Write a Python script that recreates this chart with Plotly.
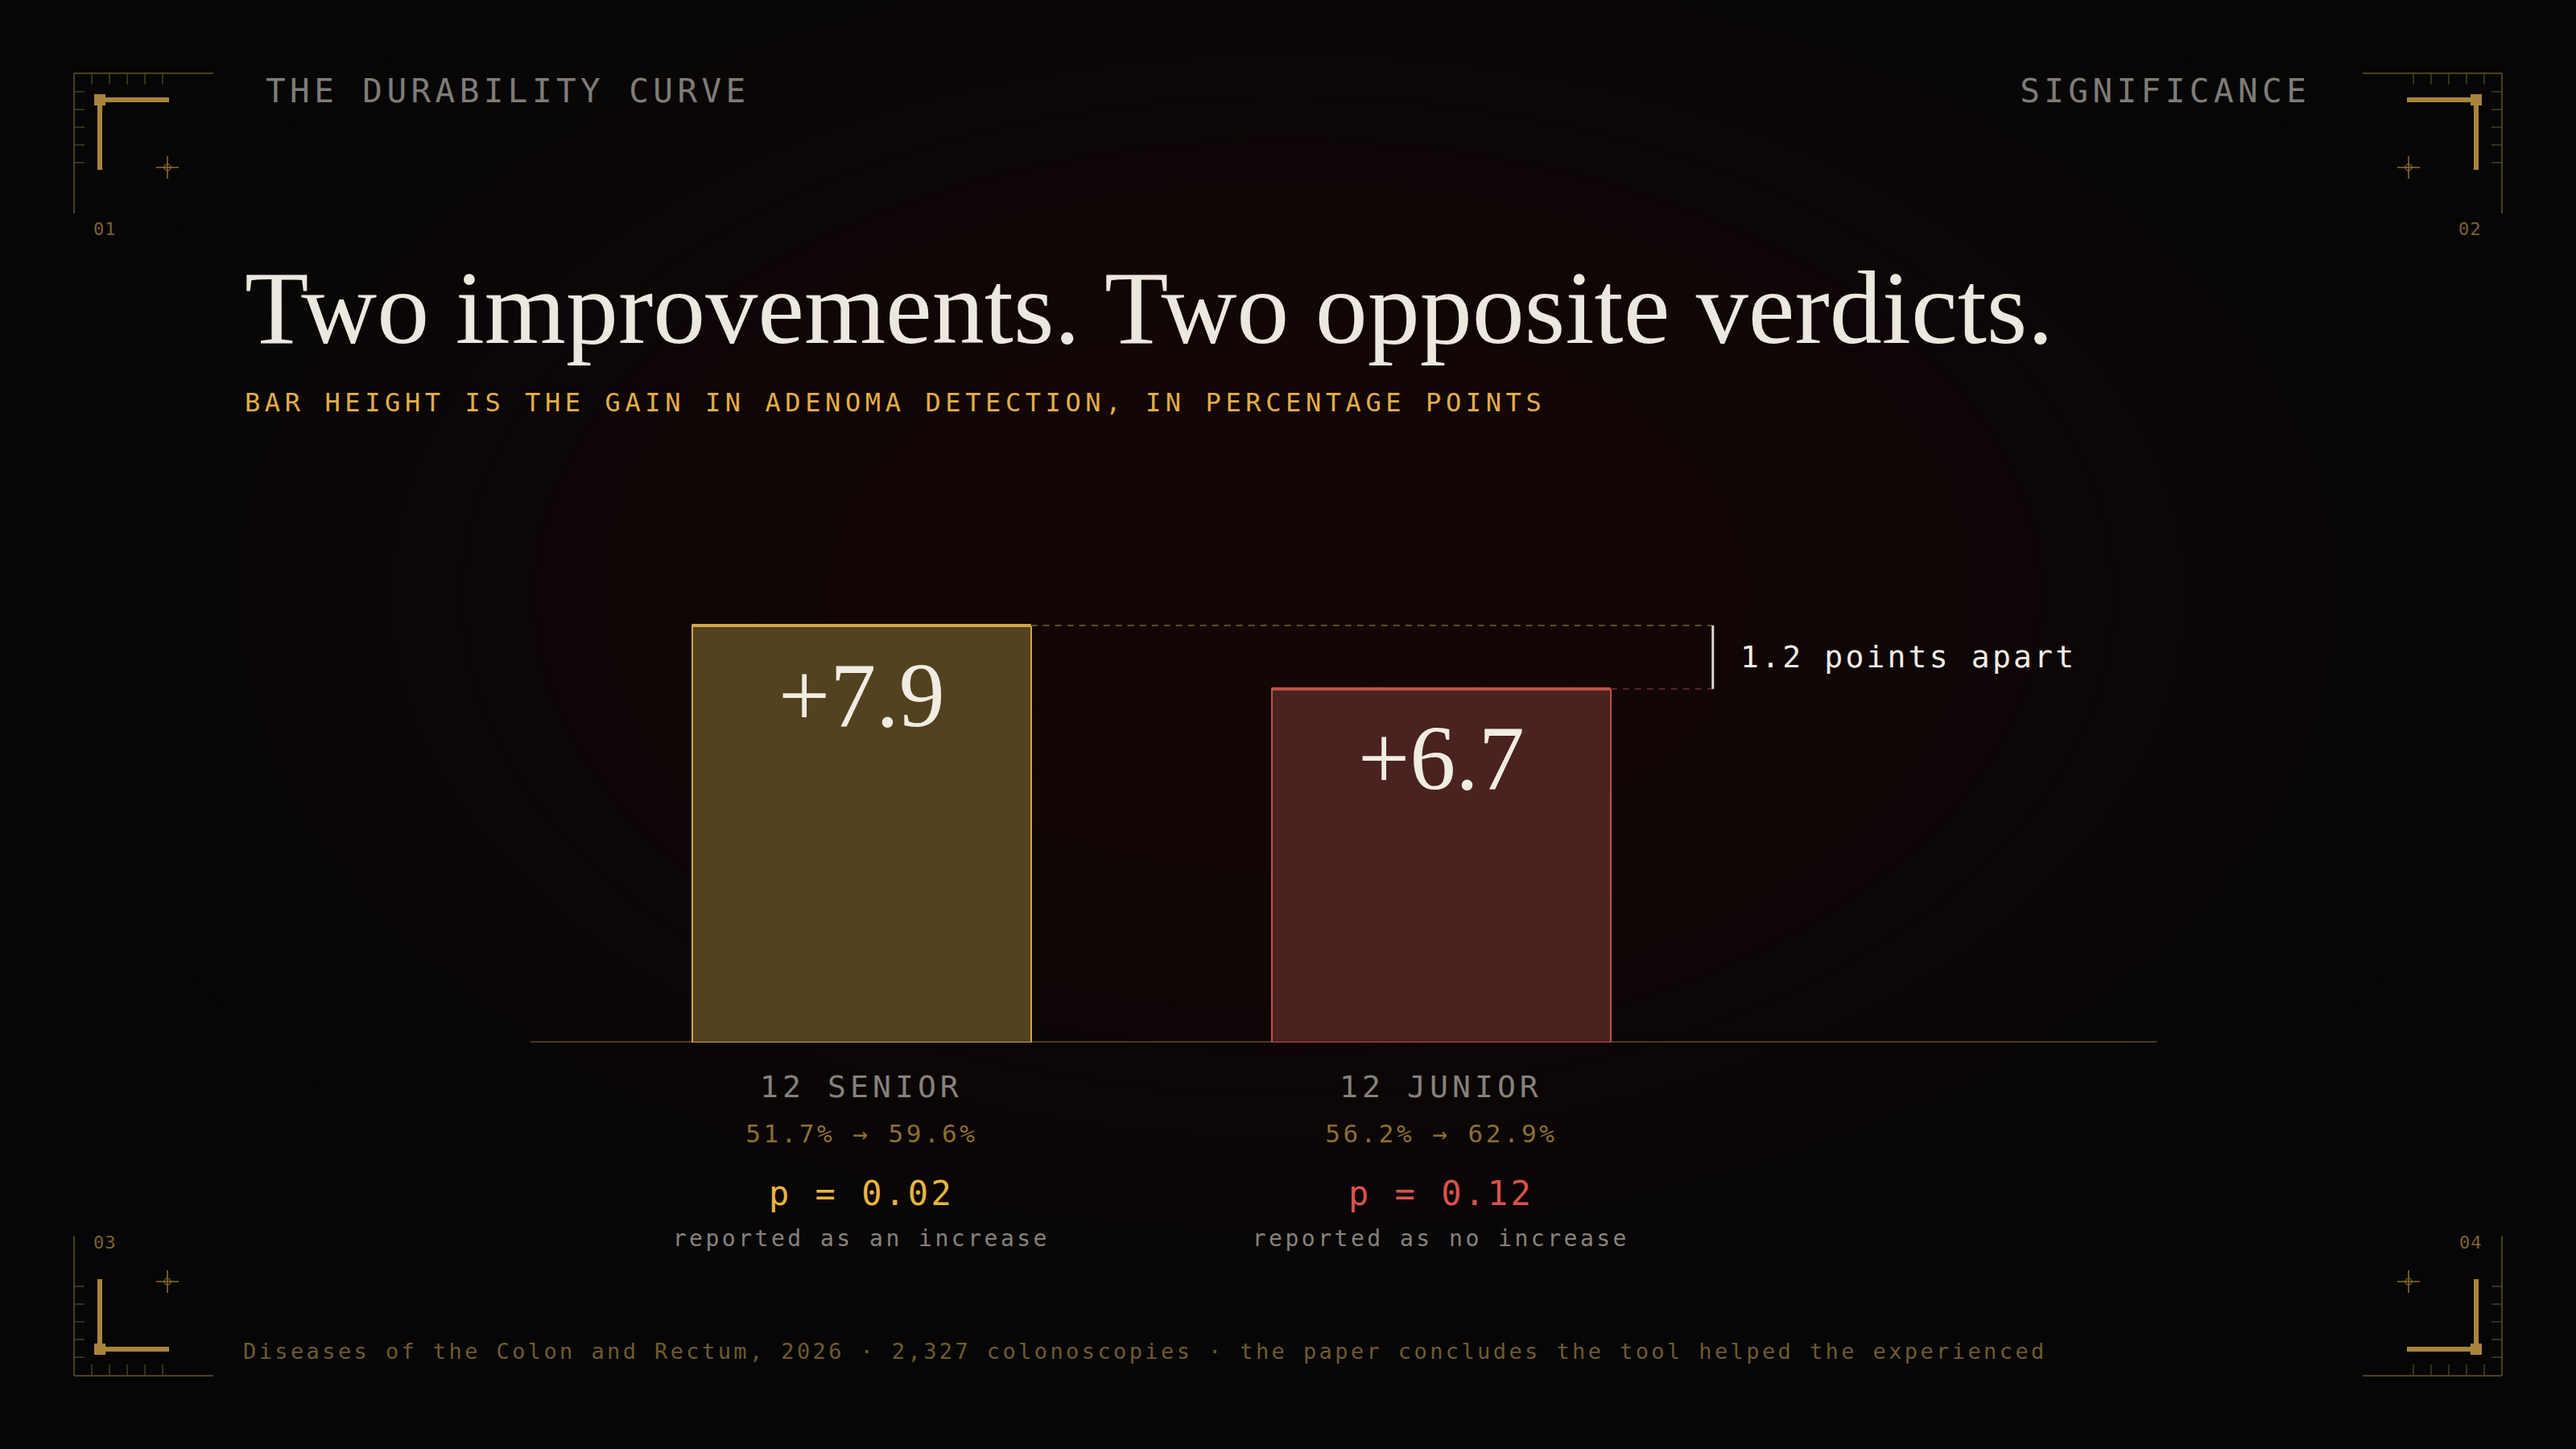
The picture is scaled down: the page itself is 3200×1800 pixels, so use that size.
import plotly.graph_objects as go

# ---------------- data ----------------
categories = ["12 SENIOR", "12 JUNIOR"]
rate_before = [51.7, 56.2]
rate_after = [59.6, 62.9]
gains = [round(a - b, 1) for a, b in zip(rate_after, rate_before)]
p_values = ["0.02", "0.12"]
verdicts = ["reported as an increase", "reported as no increase"]

# ---------------- styles ----------------
W, H = 3200, 1800
ML, MR, MT, MB = 659, 520, 705, 505
PW = W - ML - MR
PH = H - MT - MB
Y_MAX = 9.0
BAR_W = 0.585
X_RANGE = [-0.571, 2.236]
X_BRACKET = 1.469
MONO = "DejaVu Sans Mono"
SERIF = "Liberation Serif"

fills = ["#524220", "#4a2220"]
edges = ["#d2a447", "#c2504b"]
p_cols = ["#eab443", "#d9534e"]
dash_cols = ["#5e4c2c", "#5c2b29"]
GOLD_DIM = "#6e5a2e"
GRAY = "#85827c"


def fx(X):
    return (X - ML) / PW


def fy(Y):
    return (H - MB - Y) / PH


fig = go.Figure()
fig.add_trace(go.Bar(
    x=categories, y=gains, width=BAR_W,
    marker=dict(color=fills, line=dict(color=edges, width=2)),
    hoverinfo="skip", showlegend=False,
))

shapes = []
# background glow
cx, cy = 1600, 740
n = 16
for k in range(n):
    t = 1 - k / n
    rx, ry = 1450 * t + 120, 880 * t + 70
    shapes.append(dict(type="circle", xref="paper", yref="paper",
                       x0=fx(cx - rx), x1=fx(cx + rx), y0=fy(cy + ry), y1=fy(cy - ry),
                       fillcolor="#1b180b", opacity=0.06, line=dict(width=0),
                       layer="below"))
# baseline
shapes.append(dict(type="line", xref="paper", yref="y", x0=0, x1=1, y0=0, y1=0,
                   line=dict(color="#5a4826", width=3), layer="below"))
# bar top highlights
for i, g in enumerate(gains):
    shapes.append(dict(type="line", xref="x", yref="y", x0=i - BAR_W / 2, x1=i + BAR_W / 2,
                       y0=g, y1=g, line=dict(color=edges[i], width=4)))
# dashed reference lines and bracket
for i, g in enumerate(gains):
    shapes.append(dict(type="line", xref="x", yref="y", x0=i + BAR_W / 2, x1=X_BRACKET,
                       y0=g, y1=g, line=dict(color=dash_cols[i], width=2, dash="8px,7px")))
shapes.append(dict(type="line", xref="x", yref="y", x0=X_BRACKET, x1=X_BRACKET,
                   y0=min(gains), y1=max(gains), line=dict(color="#dcd8cf", width=3)))

# corner ornaments
FRAME = "#4d3e20"
LCOL = "#a8843c"
CROSS = "#8c6f33"


def pl(x0, y0, x1, y1, color, width):
    shapes.append(dict(type="line", xref="paper", yref="paper",
                       x0=fx(x0), y0=fy(y0), x1=fx(x1), y1=fy(y1),
                       line=dict(color=color, width=width)))


def corner(sx, sy):
    def X(v):
        return v if sx > 0 else W - v

    def Y(v):
        return v if sy > 0 else H - v

    pl(X(92), Y(91), X(265), Y(91), FRAME, 2)
    pl(X(92), Y(91), X(92), Y(265), FRAME, 2)
    for t in (114, 136, 158, 180, 202):
        pl(X(t), Y(91), X(t), Y(105), FRAME, 1.5)
        pl(X(92), Y(t), X(105), Y(t), FRAME, 1.5)
    pl(X(118), Y(124), X(210), Y(124), LCOL, 6)
    pl(X(124), Y(124), X(124), Y(211), LCOL, 6)
    shapes.append(dict(type="rect", xref="paper", yref="paper",
                       x0=fx(X(117)), x1=fx(X(131)), y0=fy(Y(117)), y1=fy(Y(131)),
                       fillcolor=LCOL, line=dict(width=0)))
    pl(X(194), Y(208), X(222), Y(208), CROSS, 1.5)
    pl(X(208), Y(194), X(208), Y(222), CROSS, 1.5)
    shapes.append(dict(type="circle", xref="paper", yref="paper",
                       x0=fx(X(204)), x1=fx(X(212)), y0=fy(Y(204)), y1=fy(Y(212)),
                       line=dict(color=CROSS, width=1.2)))


for sx, sy in ((1, 1), (-1, 1), (1, -1), (-1, -1)):
    corner(sx, sy)

annotations = []
spacing = []


def ann(text, x, y, size, color, family=MONO, xanchor="center", ls=0,
        xref="paper", yref="paper", yshift=0):
    annotations.append(dict(text=text, x=x, y=y, xref=xref, yref=yref,
                            xanchor=xanchor, yanchor="middle", yshift=yshift,
                            align={"left": "left", "right": "right", "center": "center"}[xanchor],
                            showarrow=False, font=dict(family=family, size=size, color=color)))
    spacing.append(ls)


# header
ann("THE DURABILITY CURVE", fx(328), fy(113), 41, "#7f7c77", xanchor="left", ls=5.4)
ann("SIGNIFICANCE", fx(2872), fy(113), 41, "#7f7c77", xanchor="right", ls=5.4)
for lab, X, Y in (("01", 130, 284), ("02", 3068, 284), ("03", 130, 1543), ("04", 3069, 1543)):
    ann(lab, fx(X), fy(Y), 22, "#7a6230", ls=1)

# title / subtitle
ann("Two improvements. Two opposite verdicts.", fx(302), fy(382), 130, "#ece8df",
    family=SERIF, xanchor="left")
ann("BAR HEIGHT IS THE GAIN IN ADENOMA DETECTION, IN PERCENTAGE POINTS",
    fx(302), fy(500), 32, "#e3ae48", xanchor="left", ls=5.6)

# bar values and labels
for i, c in enumerate(categories):
    ann(f"+{gains[i]:.1f}", c, gains[i], 114, "#f1ece2", family=SERIF,
        xref="x", yref="y", yshift=-86)
    ann(c, c, 0, 38, GRAY, xref="x", yref="y", yshift=-55, ls=5.1)
    ann(f"{rate_before[i]:.1f}% → {rate_after[i]:.1f}%", c, 0, 31, "#8c6f33",
        xref="x", yref="y", yshift=-113, ls=3.5)
    ann(f"p = {p_values[i]}", c, 0, 42, p_cols[i], xref="x", yref="y", yshift=-187, ls=3.5)
    ann(verdicts[i], c, 0, 28, GRAY, xref="x", yref="y", yshift=-243, ls=3.5)

diff = round(max(gains) - min(gains), 1)
ann(f"{diff:.1f} points apart", X_BRACKET + 0.045, (max(gains) + min(gains)) / 2, 38,
    "#f0ece4", xanchor="left", xref="x", yref="y", ls=3.2)

# footer
ann("Diseases of the Colon and Rectum, 2026 · 2,327 colonoscopies · the paper concludes the tool helped the experienced",
    fx(300), fy(1678), 27, GOLD_DIM, xanchor="left", ls=3.4)

fig.update_layout(
    width=W, height=H,
    margin=dict(l=ML, r=MR, t=MT, b=MB, pad=0),
    paper_bgcolor="#060606", plot_bgcolor="rgba(0,0,0,0)",
    xaxis=dict(range=X_RANGE, showgrid=False, zeroline=False, showticklabels=False,
               ticks="", showline=False, fixedrange=True),
    yaxis=dict(range=[0, Y_MAX], showgrid=False, zeroline=False, showticklabels=False,
               ticks="", showline=False, fixedrange=True),
    shapes=shapes, annotations=annotations, showlegend=False, bargap=0,
)

js = """
document.body.style.margin = '0';
document.body.style.background = '#060606';
document.documentElement.style.overflow = 'hidden';
var sp = %s;
var gd = document.getElementById('{plot_id}');
function applySpacing(){
  sp.forEach(function(s, i){
    if(!s) return;
    var t = gd.querySelector('g.annotation[data-index="' + i + '"] text.annotation-text');
    if(t){ t.setAttribute('letter-spacing', s + 'px'); t.style.letterSpacing = s + 'px'; }
  });
}
applySpacing();
gd.on('plotly_afterplot', applySpacing);
""" % str(spacing)

fig.write_html("out.html", post_script=js, config=dict(displayModeBar=False))
